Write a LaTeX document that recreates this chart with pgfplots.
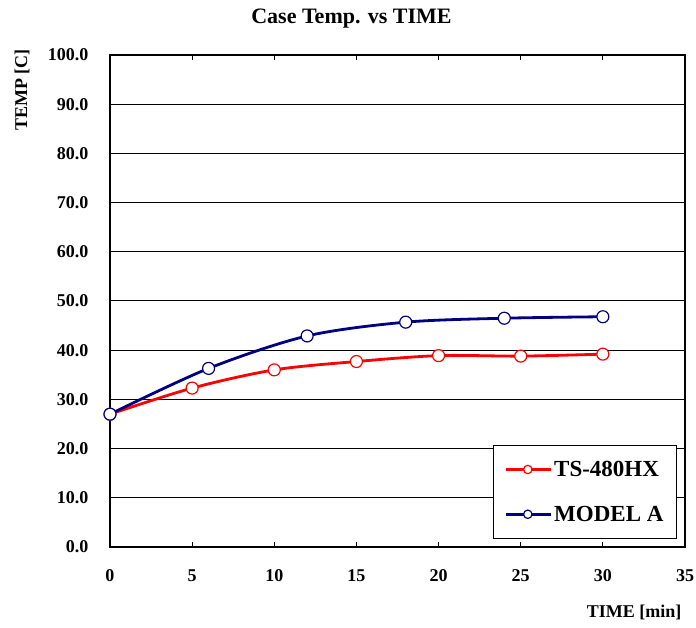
\documentclass[border=0pt]{standalone}
\usepackage{pgfplots}
\pgfplotsset{compat=1.18}
\usepackage{fontspec}
\setmainfont{Liberation Serif}

\definecolor{tsred}{RGB}{255,0,0}
\definecolor{modelblue}{RGB}{0,0,128}

\begin{document}
\begin{tikzpicture}
\begin{axis}[
    scale only axis,
    width=575pt, height=492pt,
    xmin=0, xmax=35, ymin=0, ymax=100,
    xtick={0,5,...,35},
    ytick={0,10,...,100},
    ymajorgrids,
    grid style={black, line width=1pt},
    axis line style={black, line width=1.2pt},
    tick align=inside,
    major tick length=5pt,
    xtick style={black, line width=1pt},
    ytick style={draw=none},
    /pgf/number format/assume math mode=true,
    ticklabel style={font=\fontsize{18}{20}\selectfont\bfseries},
    yticklabel style={/pgf/number format/fixed, /pgf/number format/precision=1,
        /pgf/number format/fixed zerofill, xshift=-18pt},
    xticklabel style={yshift=-19pt},
    legend style={at={(0.986,0.016)}, anchor=south east, draw=black, fill=white,
        line width=1pt, font=\fontsize{23}{26}\selectfont\bfseries,
        inner xsep=11pt, inner ysep=14pt, row sep=24pt,
        /tikz/every even column/.append style={column sep=3pt}},
    legend cell align=left,
    legend image code/.code={
        \draw[mark repeat=2, mark phase=2, mark size=4.2pt]
            plot coordinates {(0pt,0pt) (22pt,0pt) (45pt,0pt)};},
    clip=false,
]
\addplot[tsred, line width=2.8pt, smooth, tension=0.5,
    mark=*, mark size=6pt, mark options={fill=white, line width=1.2pt}]
    coordinates {(0,27.0) (5,32.3) (10,36.0) (15,37.7) (20,38.9) (25,38.8) (30,39.2)};
\addlegendentry{TS-480HX}
\addplot[modelblue, line width=2.8pt, smooth, tension=0.5,
    mark=*, mark size=6pt, mark options={fill=white, line width=1.2pt}]
    coordinates {(0,27.0) (6,36.3) (12,42.9) (18,45.7) (24,46.5) (30,46.8)};
\addlegendentry{MODEL A}

\node[font=\fontsize{22}{24}\selectfont\bfseries] at (axis description cs:0.42,1.075) {Case Temp. vs TIME};
\node[font=\fontsize{18}{20}\selectfont\bfseries, rotate=90] at (axis description cs:-0.153,0.929) {TEMP [C]};
\node[font=\fontsize{18}{20}\selectfont\bfseries, anchor=east] at (axis description cs:1,-0.134) {TIME [min]};
\end{axis}
\pgfresetboundingbox
\path (current axis.south west) ++(-110pt,-80pt) rectangle ++(696pt,627pt);
\end{tikzpicture}
\end{document}
